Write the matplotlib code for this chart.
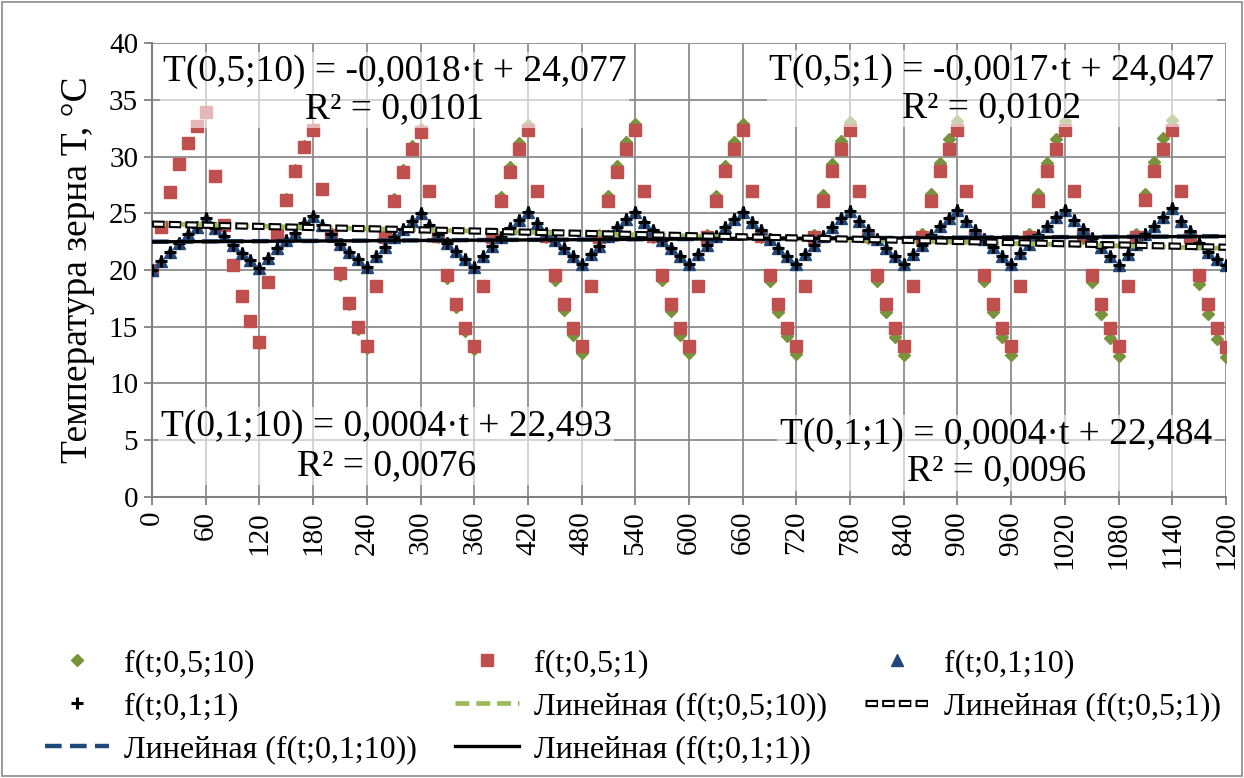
import numpy as np
import matplotlib
matplotlib.use("Agg")
import matplotlib.pyplot as plt
from matplotlib.patches import Rectangle

plt.rcParams['font.family'] = 'serif'
plt.rcParams['font.serif'] = ['Liberation Serif', 'DejaVu Serif']
plt.rcParams['lines.scale_dashes'] = False

# === Data === #
t = np.arange(0, 1201, 10)

# f(t;0,5;10) - green diamonds
f_05_10 = [
    20.0, 23.8, 26.9, 29.3, 31.2, 32.7, 33.9,
    28.3, 24.0, 20.4, 17.7, 15.5, 13.6,
    18.9, 23.2, 26.3, 28.8, 30.9, 32.4,
    27.1, 23.1, 19.6, 17.0, 14.8, 13.1,
    18.6, 23.0, 26.3, 28.8, 30.9, 32.4,
    27.0, 22.9, 19.3, 16.7, 14.6, 13.0,
    18.6, 23.1, 26.4, 29.1, 31.2, 32.8,
    27.0, 22.9, 19.1, 16.5, 14.3, 12.7,
    18.6, 23.1, 26.5, 29.2, 31.3, 32.9,
    27.0, 22.9, 19.1, 16.4, 14.3, 12.7,
    18.6, 23.1, 26.5, 29.2, 31.3, 32.9,
    27.0, 22.9, 19.0, 16.3, 14.2, 12.6,
    18.6, 23.1, 26.6, 29.3, 31.4, 33.0,
    27.0, 22.8, 19.0, 16.3, 14.1, 12.5,
    18.6, 23.2, 26.7, 29.4, 31.5, 33.1,
    27.0, 22.8, 19.0, 16.3, 14.1, 12.5,
    18.6, 23.2, 26.7, 29.4, 31.5, 33.1,
    27.0, 22.8, 18.9, 16.1, 14.0, 12.4,
    18.6, 23.2, 26.7, 29.5, 31.6, 33.2,
    27.0, 22.8, 18.8, 16.1, 13.9, 12.3,
]

# f(t;0,5;1) - red squares
f_05_1 = [
    20.0, 23.8, 26.9, 29.3, 31.2, 32.7, 33.9,
    28.3, 24.0, 20.4, 17.7, 15.5, 13.7,
    18.9, 23.2, 26.2, 28.7, 30.8, 32.3,
    27.1, 23.1, 19.7, 17.1, 15.0, 13.3,
    18.6, 22.9, 26.1, 28.6, 30.7, 32.2,
    27.0, 23.0, 19.6, 17.0, 14.9, 13.3,
    18.6, 22.9, 26.1, 28.6, 30.7, 32.3,
    27.0, 23.0, 19.6, 17.0, 14.9, 13.3,
    18.6, 22.9, 26.1, 28.6, 30.7, 32.3,
    27.0, 23.0, 19.6, 17.0, 14.9, 13.3,
    18.6, 22.9, 26.1, 28.7, 30.7, 32.3,
    27.0, 23.0, 19.6, 17.0, 14.9, 13.3,
    18.6, 22.9, 26.1, 28.7, 30.7, 32.3,
    27.0, 23.0, 19.6, 17.0, 14.9, 13.3,
    18.6, 22.9, 26.1, 28.7, 30.7, 32.3,
    27.0, 23.0, 19.6, 17.0, 14.9, 13.3,
    18.6, 22.9, 26.1, 28.7, 30.7, 32.3,
    27.0, 23.0, 19.6, 17.0, 14.9, 13.3,
    18.6, 22.9, 26.2, 28.7, 30.7, 32.3,
    27.0, 22.9, 19.6, 17.0, 14.9, 13.2,
]

# f(t;0,1;10) - blue triangles
f_01_10 = [
    20.0, 20.8, 21.6, 22.4, 23.2, 23.8, 24.6,
    23.7, 23.0, 22.2, 21.5, 20.9, 20.2,
    21.1, 21.9, 22.6, 23.3, 24.1, 24.8,
    24.0, 23.2, 22.3, 21.6, 21.0, 20.3,
    21.2, 22.0, 22.9, 23.6, 24.3, 25.0,
    24.0, 23.2, 22.4, 21.7, 21.0, 20.3,
    21.2, 22.1, 22.9, 23.7, 24.4, 25.1,
    24.1, 23.3, 22.6, 21.9, 21.2, 20.5,
    21.4, 22.1, 23.0, 23.8, 24.5, 25.1,
    24.2, 23.5, 22.6, 21.9, 21.2, 20.5,
    21.4, 22.2, 23.0, 23.8, 24.5, 25.1,
    24.2, 23.5, 22.7, 21.9, 21.2, 20.5,
    21.4, 22.2, 23.0, 23.8, 24.6, 25.2,
    24.3, 23.5, 22.7, 21.9, 21.2, 20.5,
    21.4, 22.2, 23.1, 23.9, 24.6, 25.3,
    24.3, 23.5, 22.7, 22.0, 21.2, 20.5,
    21.5, 22.3, 23.1, 23.9, 24.7, 25.3,
    24.4, 23.6, 22.8, 22.0, 21.2, 20.4,
    21.4, 22.3, 23.2, 23.9, 24.7, 25.5,
    24.3, 23.4, 22.4, 21.6, 21.0, 20.4,
]

# f(t;0,1;1) - black plus (practically on top of the triangles)
f_01_1 = [
    20.0, 20.8, 21.6, 22.4, 23.2, 23.8, 24.6,
    23.7, 23.0, 22.2, 21.5, 20.9, 20.2,
    21.1, 21.9, 22.6, 23.3, 24.1, 24.8,
    24.0, 23.2, 22.3, 21.6, 21.0, 20.3,
    21.2, 22.0, 22.9, 23.6, 24.3, 25.0,
    24.0, 23.2, 22.4, 21.7, 21.0, 20.3,
    21.2, 22.1, 22.9, 23.7, 24.4, 25.1,
    24.1, 23.3, 22.6, 21.9, 21.2, 20.5,
    21.4, 22.1, 23.0, 23.8, 24.5, 25.1,
    24.2, 23.5, 22.6, 21.9, 21.2, 20.5,
    21.4, 22.2, 23.0, 23.8, 24.5, 25.1,
    24.2, 23.5, 22.7, 21.9, 21.2, 20.5,
    21.4, 22.2, 23.0, 23.8, 24.6, 25.2,
    24.3, 23.5, 22.7, 21.9, 21.2, 20.5,
    21.4, 22.2, 23.1, 23.9, 24.6, 25.3,
    24.3, 23.5, 22.7, 22.0, 21.2, 20.5,
    21.5, 22.3, 23.1, 23.9, 24.7, 25.3,
    24.4, 23.6, 22.8, 22.0, 21.2, 20.4,
    21.4, 22.3, 23.2, 23.9, 24.7, 25.5,
    24.3, 23.4, 22.4, 21.6, 21.0, 20.4,
]

# trend line coefficients (slope, intercept) as printed on the chart
trend_05_10 = (-0.0018, 24.077)
trend_05_1 = (-0.0017, 24.047)
trend_01_10 = (0.0004, 22.493)
trend_01_1 = (0.0004, 22.484)

labels_pts = ["f(t;0,5;10)", "f(t;0,5;1)", "f(t;0,1;10)", "f(t;0,1;1)"]
labels_lin = ["Линейная (f(t;0,5;10))", "Линейная (f(t;0,5;1))",
              "Линейная (f(t;0,1;10))", "Линейная (f(t;0,1;1))"]

x_ticks = list(range(0, 1201, 60))
y_ticks = list(range(0, 41, 5))

# === Figure === #
fig = plt.figure(figsize=(12.44, 7.78), dpi=100)
fig.patches.append(Rectangle((0.002, 0.003), 0.996, 0.994, transform=fig.transFigure,
                             fill=False, edgecolor='#8a8a8a', lw=1.2))
ax = fig.add_axes([0.1222, 0.3612, 0.8633, 0.5835])

GREEN = '#77933C'
RED = '#C0504D'
BLUE = '#1F497D'
LGREEN = '#9BBB59'

h_a, = ax.plot(t, f_05_10, ls='none', marker='D', ms=6.5, color=GREEN, zorder=3)
h_b, = ax.plot(t, f_05_1, ls='none', marker='s', ms=8, color=RED, zorder=4)
h_c, = ax.plot(t, f_01_10, ls='none', marker='^', ms=8, color=BLUE, zorder=5)
h_d, = ax.plot(t, f_01_1, ls='none', marker='+', ms=8, mew=2.2, color='black', zorder=6)

# trend lines
tt = np.array([0, 1200])
h_e, = ax.plot(tt, trend_05_10[0] * tt + trend_05_10[1], color=LGREEN, lw=3.4,
               ls=(0, (10, 5)), zorder=7)
h_f1, = ax.plot(tt, trend_05_1[0] * tt + trend_05_1[1], color='black', lw=5.2,
                ls=(0, (9, 3)), zorder=8)
h_f2, = ax.plot(tt, trend_05_1[0] * tt + trend_05_1[1], color='white', lw=2.2,
                ls=(10.6, (6.6, 5.4)), zorder=9)
h_g, = ax.plot(tt, trend_01_10[0] * tt + trend_01_10[1], color=BLUE, lw=3.2,
               ls=(0, (12, 6)), zorder=7)
h_h, = ax.plot(tt, trend_01_1[0] * tt + trend_01_1[1], color='black', lw=2.4, zorder=8)

ax.set_xlim(0, 1200)
ax.set_ylim(0, 40)
ax.set_xticks(x_ticks)
ax.set_xticklabels([str(v) for v in x_ticks], rotation=90)
ax.set_yticks(y_ticks)
ax.tick_params(axis='both', labelsize=21, length=6, width=1.3, color='#808080', pad=4)
ax.grid(True, color='#8c8c8c', lw=1.3)
ax.set_axisbelow(True)
for side in ['top', 'right']:
    ax.spines[side].set_visible(False)
for side in ['left', 'bottom']:
    ax.spines[side].set_color('#808080')
    ax.spines[side].set_linewidth(1.5)
ax.set_ylabel("Температура зерна T, °C", fontsize=27, labelpad=10)

# equation labels (semi-transparent white background like Excel)
box = dict(facecolor='white', alpha=0.6, edgecolor='none', pad=2)
eq_kw = dict(transform=ax.transAxes, fontsize=27, ha='center', va='center',
             multialignment='center', bbox=box, zorder=20)
ax.text(0.226, 0.896, "T(0,5;10) = -0,0018·t + 24,077\nR² = 0,0101", linespacing=1.07, **eq_kw)
ax.text(0.782, 0.899, "T(0,5;1) = -0,0017·t + 24,047\nR² = 0,0102", linespacing=1.1, **eq_kw)
ax.text(0.218, 0.112, "T(0,1;10) = 0,0004·t + 22,493\nR² = 0,0076", linespacing=1.15, **eq_kw)
ax.text(0.786, 0.097, "T(0,1;1) = 0,0004·t + 22,484\nR² = 0,0096", linespacing=1.07, **eq_kw)

# legend: Excel fills rows, matplotlib fills columns -> reorder
handles = [h_a, h_d, h_g, h_b, h_e, h_h, h_c, (h_f1, h_f2)]
labs = [labels_pts[0], labels_pts[3], labels_lin[2], labels_pts[1], labels_lin[0],
        labels_lin[3], labels_pts[2], labels_lin[1]]
fig.legend(handles, labs, loc='upper left', bbox_to_anchor=(0.026, 0.183), ncol=3,
           frameon=False, fontsize=23, handlelength=2.0, handletextpad=0.47,
           columnspacing=1.2, labelspacing=0.44, borderaxespad=0)

fig.savefig("out.png", dpi=100)
